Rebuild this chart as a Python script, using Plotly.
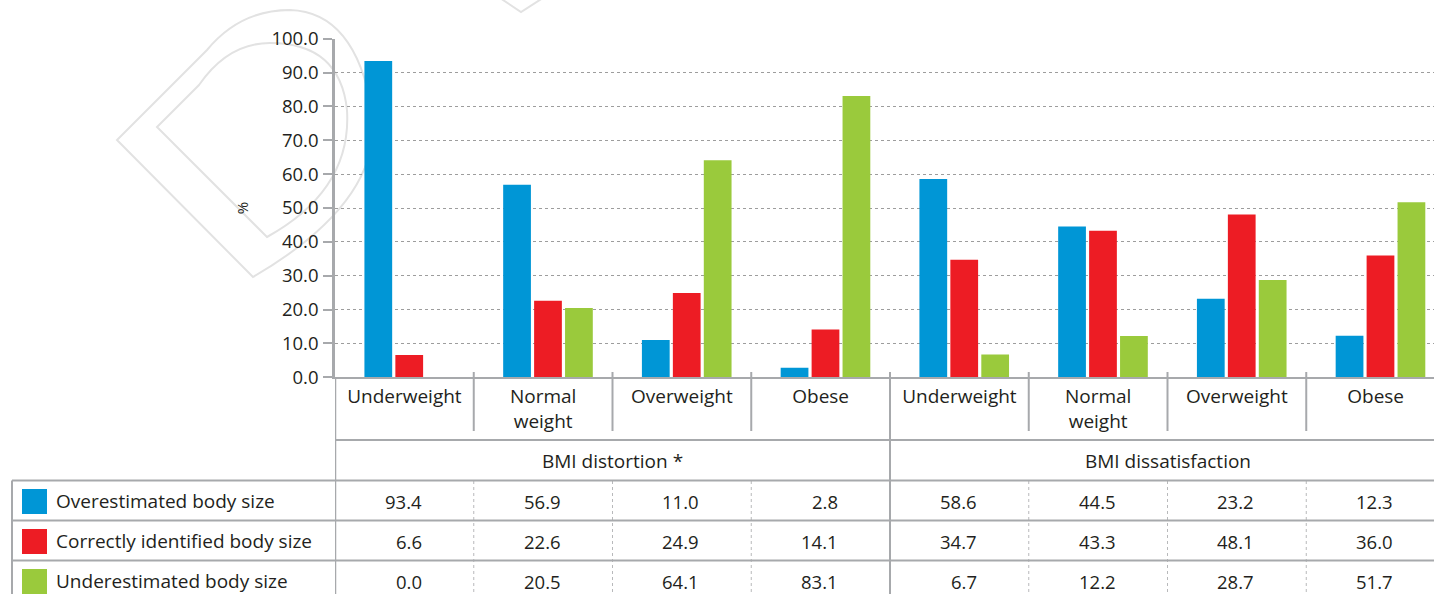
import plotly.graph_objects as go

# ---------------- data ----------------
categories = ["Underweight", "Normal weight", "Overweight", "Obese",
              "Underweight", "Normal weight", "Overweight", "Obese"]
category_ticktext = ["Underweight", "Normal<br>weight", "Overweight", "Obese",
                     "Underweight", "Normal<br>weight", "Overweight", "Obese"]
groups = ["BMI distortion *", "BMI dissatisfaction"]
series_names = ["Overestimated body size", "Correctly identified body size",
                "Underestimated body size"]
overestimated = [93.4, 56.9, 11.0, 2.8, 58.6, 44.5, 23.2, 12.3]
correctly_identified = [6.6, 22.6, 24.9, 14.1, 34.7, 43.3, 48.1, 36.0]
underestimated = [0.0, 20.5, 64.1, 83.1, 6.7, 12.2, 28.7, 51.7]
y_ticks = [0, 10, 20, 30, 40, 50, 60, 70, 80, 90, 100]
y_title = "%"

# ---------------- styles ----------------
W, H = 1434, 594
FONT = "Open Sans"
TXT = "#231f20"
GRAY = "#a7a9ac"
colors = ["#0096d6", "#ed1c24", "#9aca3c"]
offsets = [-0.288, -0.065, 0.158]
bar_w = 0.2
cat_px = 138.75
x_left_px = 335
fs = 18.5      # numbers
fs_lab = 19    # word labels

def X(px):
    return px / W

def Y(py):
    return 1 - py / H

series_values = [overestimated, correctly_identified, underestimated]
xs = list(range(len(categories)))

fig = go.Figure()
for name, vals, col, off in zip(series_names, series_values, colors, offsets):
    fig.add_trace(go.Bar(x=xs, y=vals, name=name, marker_color=col,
                         marker_line_width=0, width=bar_w, offset=off,
                         showlegend=False, hoverinfo="skip"))

shapes = []
line = dict(color=GRAY, width=2)
# extension of y axis line down through table
shapes.append(dict(type="line", xref="x", yref="paper", x0=-0.5, x1=-0.5,
                   y0=Y(377), y1=Y(600), line=dict(color=GRAY, width=2.5)))
# category dividers
for i in range(len(categories) - 1):
    if i == 3:
        shapes.append(dict(type="line", xref="x", yref="paper", x0=i + 0.5, x1=i + 0.5,
                           y0=Y(372), y1=Y(600), line=line))
    else:
        shapes.append(dict(type="line", xref="x", yref="paper", x0=i + 0.5, x1=i + 0.5,
                           y0=Y(372), y1=Y(431), line=line))
        shapes.append(dict(type="line", xref="x", yref="paper", x0=i + 0.5, x1=i + 0.5,
                           y0=Y(481), y1=Y(600),
                           line=dict(color="#b8b9bb", width=1, dash="dot")))
# horizontal lines
shapes.append(dict(type="line", xref="x", yref="paper", x0=-0.5, x1=8,
                   y0=Y(440), y1=Y(440), line=line))
for yy in [480.5, 520.5, 560.5]:
    shapes.append(dict(type="line", xref="paper", yref="paper", x0=X(12), x1=1,
                       y0=Y(yy), y1=Y(yy), line=line))
shapes.append(dict(type="line", xref="paper", yref="paper", x0=X(12), x1=X(12),
                   y0=Y(480.5), y1=Y(600), line=line))
# legend swatches
for k, col in enumerate(colors):
    top = 489 + 40 * k
    shapes.append(dict(type="rect", xref="paper", yref="paper", x0=X(22), x1=X(47),
                       y0=Y(top), y1=Y(top + 25), fillcolor=col, line=dict(width=0)))
# faint watermark
wm = "#e2e2e2"
shapes.append(dict(type="path", xref="paper", yref="paper", layer="below",
                   path="M {},{} L {},{} Q {},{} {},{} Q {},{} {},{} Q {},{} {},{} Z".format(
                       X(117), Y(140), X(253), Y(277), X(385), Y(200), X(372), Y(110),
                       X(355), Y(12), X(290), Y(10), X(240), Y(10), X(207), Y(50)),
                   line=dict(color=wm, width=2)))
shapes.append(dict(type="path", xref="paper", yref="paper", layer="below",
                   path="M {},{} L {},{} Q {},{} {},{} Q {},{} {},{} Q {},{} {},{} Z".format(
                       X(157), Y(127), X(267), Y(237), X(352), Y(190), X(347), Y(110),
                       X(340), Y(43), X(270), Y(43), X(228), Y(43), X(199), Y(85)),
                   line=dict(color=wm, width=2)))
shapes.append(dict(type="path", xref="paper", yref="paper", layer="below",
                   path="M {},{} L {},{} L {},{}".format(X(500), Y(-2), X(521), Y(12), X(546), Y(-4)),
                   line=dict(color=wm, width=2)))

annotations = []
# group labels
for g, name in enumerate(groups):
    annotations.append(dict(text=name, xref="x", yref="paper", x=1.5 + 4 * g, y=Y(461),
                            showarrow=False, xanchor="center", yanchor="middle",
                            font=dict(family=FONT, size=fs_lab, color=TXT)))
# legend labels and values
for k, (name, vals) in enumerate(zip(series_names, series_values)):
    yc = Y(501 + 40 * k)
    annotations.append(dict(text=name, xref="paper", yref="paper", x=X(54), y=yc,
                            showarrow=False, xanchor="left", yanchor="middle",
                            font=dict(family=FONT, size=fs_lab, color=TXT)))
    for i, v in enumerate(vals):
        annotations.append(dict(text=f"{v:.1f}", xref="x", yref="paper", x=i + 0.14, y=yc,
                                showarrow=False, xanchor="right", yanchor="middle",
                                font=dict(family=FONT, size=fs, color=TXT)))

fig.update_layout(
    width=W, height=H,
    margin=dict(l=0, r=0, t=0, b=0, autoexpand=False),
    paper_bgcolor="white", plot_bgcolor="white",
    barmode="overlay",
    shapes=shapes, annotations=annotations,
    font=dict(family=FONT, size=fs, color=TXT),
    xaxis=dict(domain=[X(x_left_px), 1],
               range=[-0.5, -0.5 + (W - x_left_px) / cat_px],
               tickmode="array", tickvals=xs, ticktext=category_ticktext,
               ticks="", showline=True, linecolor=GRAY, linewidth=2,
               showgrid=False, zeroline=False, fixedrange=True, automargin=False,
               tickfont=dict(family=FONT, size=fs_lab, color=TXT),
               ticklabelstandoff=1),
    yaxis=dict(domain=[Y(377.3), Y(38.7)], range=[0, 100],
               tickmode="array", tickvals=y_ticks,
               ticktext=[f"{t:.1f}" for t in y_ticks],
               ticks="outside", ticklen=9, tickwidth=2, tickcolor=GRAY,
               showline=True, linecolor=GRAY, linewidth=2.5,
               showgrid=True, gridcolor="#9d9d9d", gridwidth=1.3, griddash="dot",
               zeroline=False, fixedrange=True, automargin=False,
               tickfont=dict(family=FONT, size=fs, color=TXT),
               ticklabelstandoff=1,
               title=dict(text=y_title, standoff=20,
                          font=dict(family=FONT, size=15, color=TXT))),
)

fig.write_html("out.html", config={"displayModeBar": False},
               post_script="document.body.style.margin='0';document.body.style.padding='0';")
